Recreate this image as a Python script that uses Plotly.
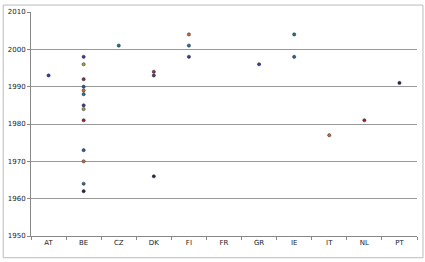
import plotly.graph_objects as go

categories = ["AT", "BE", "CZ", "DK", "FI", "FR", "GR", "IE", "IT", "NL", "PT"]

point_country = ["AT",
                 "BE", "BE", "BE", "BE", "BE", "BE", "BE", "BE", "BE", "BE", "BE", "BE", "BE",
                 "CZ",
                 "DK", "DK", "DK",
                 "FI", "FI", "FI",
                 "GR",
                 "IE", "IE",
                 "IT",
                 "NL",
                 "PT"]
point_year = [1993,
              1998, 1996, 1992, 1990, 1989, 1988, 1985, 1984, 1981, 1973, 1970, 1964, 1962,
              2001,
              1994, 1993, 1966,
              2004, 2001, 1998,
              1996,
              2004, 1998,
              1977,
              1981,
              1991]
point_series = ["navy",
                "navy", "olive", "maroon", "blue", "orange", "teal", "navy", "olive", "red", "blue", "orange", "teal", "dark",
                "teal",
                "maroon", "purple", "dark",
                "orange", "teal", "navy",
                "navy",
                "teal", "blue",
                "orange",
                "red",
                "dark"]

palette = {
    "navy": "#3b3f8f",
    "olive": "#a3a545",
    "maroon": "#8f3246",
    "blue": "#2f5f96",
    "orange": "#d2702e",
    "teal": "#2a7290",
    "red": "#a3261e",
    "dark": "#2e2840",
    "purple": "#5a3c78",
}

fig = go.Figure()
for s, col in palette.items():
    xs = [c for c, k in zip(point_country, point_series) if k == s]
    ys = [y for y, k in zip(point_year, point_series) if k == s]
    if not xs:
        continue
    fig.add_trace(go.Scatter(
        x=xs, y=ys, mode="markers", name=s,
        marker=dict(size=3.2, color=col, line=dict(width=0.5, color="#1a1a2a")),
    ))

axis_font = dict(family="DejaVu Sans", size=7, color="#222222")

fig.update_xaxes(
    type="category", categoryorder="array", categoryarray=categories,
    tickvals=categories, ticktext=categories,
    range=[-0.5, len(categories) - 0.5],
    showgrid=False, showline=True, linecolor="#888888", linewidth=1,
    ticks="outside", tickson="boundaries", ticklen=3, tickcolor="#888888",
    tickfont=axis_font, zeroline=False,
)
fig.update_yaxes(
    range=[1950, 2010], dtick=10, tick0=1950,
    showgrid=True, gridcolor="#999999", gridwidth=1,
    showline=True, linecolor="#888888", linewidth=1,
    ticks="outside", ticklen=3, tickcolor="#888888",
    tickfont=axis_font, zeroline=False,
)

fig.add_shape(type="rect", xref="paper", yref="paper",
              x0=-0.072, x1=1.0155, y0=-0.097, y1=1.031,
              line=dict(color="#bbbbbb", width=1), fillcolor="rgba(0,0,0,0)")

fig.update_layout(
    width=425, height=262,
    margin=dict(l=29, r=8, t=9, b=26),
    paper_bgcolor="white", plot_bgcolor="white",
    showlegend=False,
)

fig.write_html("out.html")
